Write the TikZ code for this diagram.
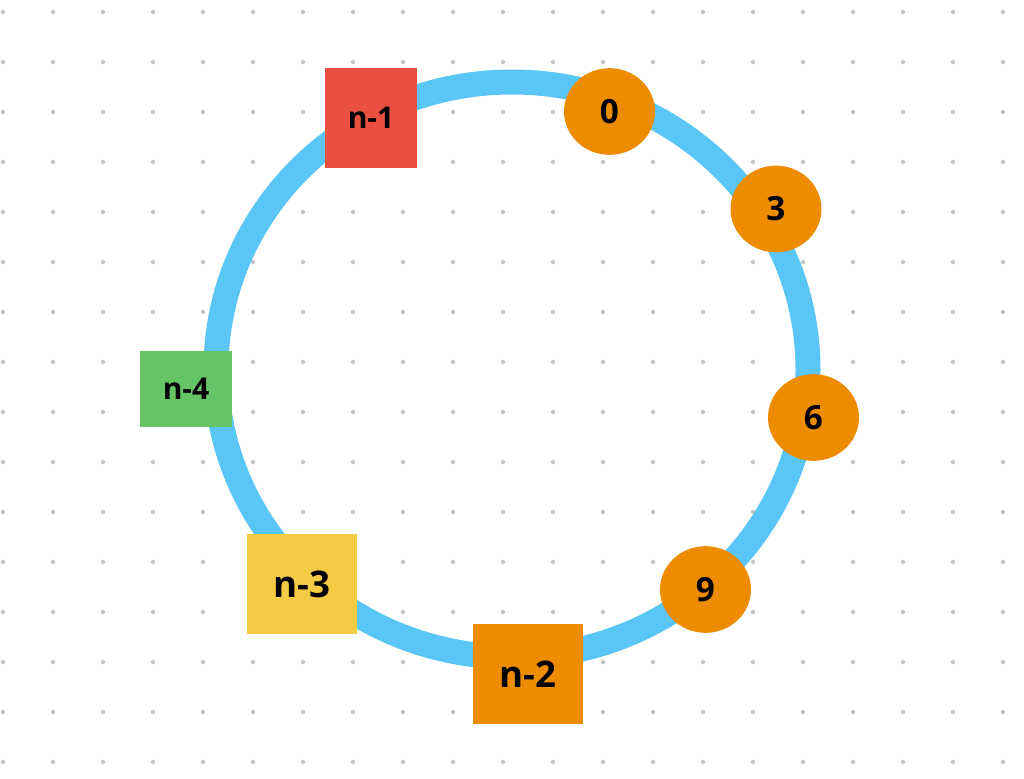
\documentclass[tikz,border=0pt]{standalone}
\usepackage{fontspec}
\setmainfont{Open Sans}
\usetikzlibrary{shapes.geometric}

\definecolor{ringblue}{HTML}{5AC5F7}
\definecolor{dotgray}{HTML}{C4C4C4}
\definecolor{nodered}{HTML}{EA503F}
\definecolor{nodegreen}{HTML}{64C466}
\definecolor{nodeyellow}{HTML}{F5CB45}
\definecolor{nodeorange}{HTML}{EE8C00}

\begin{document}
\begin{tikzpicture}[x=0.75pt,y=-0.75pt,
  server/.style={rectangle, inner sep=0pt, font=\bfseries\fontsize{22.5}{26}\selectfont},
  bigserver/.style={server, minimum width=82.5pt, minimum height=75pt, font=\bfseries\fontsize{27.5}{32}\selectfont},
  key/.style={ellipse, fill=nodeorange, inner sep=0pt, minimum width=68.25pt, minimum height=65pt, font=\bfseries\fontsize{25}{30}\selectfont}]
\useasboundingbox (0,0) rectangle (1024,778);
% dot grid
\foreach \i in {0,...,20}
  \foreach \j in {0,...,15}
    \fill[dotgray] (3+50*\i,12+50*\j) circle (1.6pt);

% the ring
\draw[ringblue, line width=18.75pt] (512,369.5) ellipse [x radius=296, y radius=287.5];

% servers
\node[server, fill=nodered, minimum width=69pt, minimum height=75pt] (n1) at (371,118) {n-1};
\node[server, fill=nodegreen, minimum width=69pt, minimum height=57pt] (n4) at (186,389) {n-4};
\node[bigserver, fill=nodeyellow] (n3) at (302,584) {n-3};
\node[bigserver, fill=nodeorange] (n2) at (528,674) {n-2};

% keys
\node[key] (k0) at (609.5,111.5) {0};
\node[key] (k3) at (776,209) {3};
\node[key] (k6) at (813.5,417.5) {6};
\node[key] (k9) at (705.5,589.5) {9};
\end{tikzpicture}
\end{document}
